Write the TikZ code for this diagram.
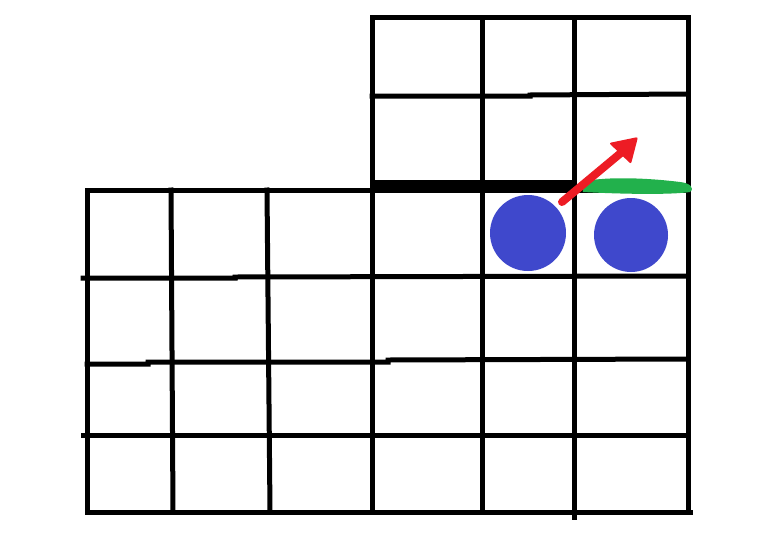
\documentclass[tikz,border=0pt]{standalone}
\definecolor{pblue}{HTML}{3F48CC}
\definecolor{pred}{HTML}{ED1C24}
\definecolor{pgreen}{HTML}{22B14C}
\begin{document}
\begin{tikzpicture}[x=1pt,y=-1pt,
  gridline/.style={line width=5pt, line cap=rect, black},
  ball/.style={fill=pblue}]
\useasboundingbox (0,0) rectangle (767,533);
\fill[white] (0,0) rectangle (767,533);
% top block
\draw[gridline] (372,17) -- (688,17);
\draw[gridline] (372,96) -- (530,96) -- (530,95) -- (688,94);
% thick ledge
\fill[black] (370,180) rectangle (575,192);
% main block horizontals
\draw[gridline] (87,190) -- (688,190);
\draw[gridline] (83,278) -- (235,278) -- (235,277) -- (685,276);
\draw[gridline] (87,364) -- (148,364) -- (148,362) -- (388,362) -- (388,360) -- (688,359);
\draw[gridline] (83,435) -- (688,435);
\draw[gridline] (87,512) -- (690,512);
% verticals
\draw[gridline] (87,190) -- (87,512);
\draw[gridline] (171,190) -- (173,512);
\draw[gridline] (267,190) -- (270,512);
\draw[gridline] (372,17) -- (372,512);
\draw[gridline] (482,17) -- (482,512);
\draw[gridline] (574,17) -- (574,517);
\draw[gridline] (688,17) -- (688,512);
% green stroke
\fill[pgreen] (582,182) .. controls (600,177) and (640,177) .. (680,182)
  .. controls (690,183) and (695,188) .. (690,192)
  .. controls (670,195) and (620,194) .. (583,192) -- cycle;
% red arrow
\draw[pred, line width=8pt, line cap=round] (562,202) -- (622,152);
\fill[pred, rounded corners=2pt] (638,137) -- (609,143) -- (631,164) -- cycle;
% balls
\fill[ball] (528,233) circle (38);
\fill[ball] (631,235) circle (37);
\end{tikzpicture}
\end{document}
